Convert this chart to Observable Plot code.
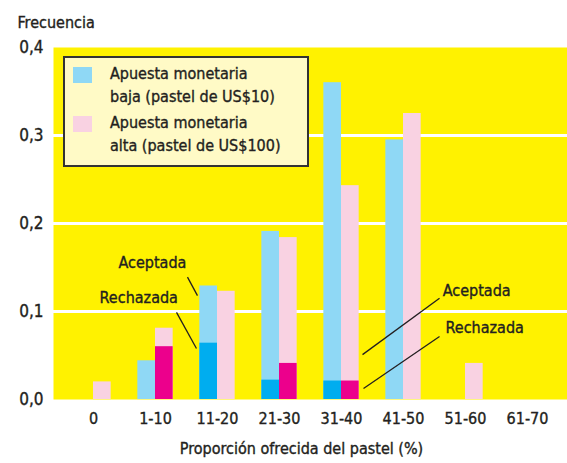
<!DOCTYPE html>
<html><head><meta charset="utf-8">
<script src="https://cdn.jsdelivr.net/npm/d3@7"></script>
<script src="https://cdn.jsdelivr.net/npm/@observablehq/plot@0.6"></script>
<style>
body{margin:0;background:#fff;}
#wrap{position:relative;width:567px;height:463px;font-family:"Liberation Sans Narrow","Arial Narrow","DejaVu Sans Condensed","Roboto Condensed",sans-serif;color:#231f20;}
#wrap svg text{stroke:#231f20;stroke-width:0.35px;}
#legend{position:absolute;left:63px;top:56px;width:242px;height:107px;background:#fffac6;border:2px solid #333;}
.sw{position:absolute;left:8px;width:19px;height:16px;}
.lt{position:absolute;left:45px;font-size:16px;line-height:23px;white-space:pre-line;-webkit-text-stroke:0.35px #231f20;}
</style></head>
<body><div id="wrap"></div>
<script>
const categories = ["0","1-10","11-20","21-30","31-40","41-50","51-60","61-70"];
const lowTotal     = [0, 0.044, 0.129, 0.191, 0.360, 0.295, 0, 0];
const lowRejected  = [0, 0, 0.064, 0.022, 0.021, 0, 0, 0];
const highTotal    = [0.020, 0.081, 0.123, 0.184, 0.243, 0.325, 0.041, 0];
const highRejected = [0, 0.060, 0, 0.041, 0.021, 0, 0, 0];
const yTicks = [0, 0.1, 0.2, 0.3, 0.4];
const gridTicks = [0.1, 0.2, 0.3];
const seriesLabels = ["Apuesta monetaria\nbaja (pastel de US$10)", "Apuesta monetaria\nalta (pastel de US$100)"];
const yLabel = "Frecuencia";
const xLabel = "Proporción ofrecida del pastel (%)";
const annotationText = [
  {text: "Aceptada", x: 0.95, y: 0.155},
  {text: "Rechazada", x: 0.73, y: 0.116},
  {text: "Aceptada", x: 6.18, y: 0.124},
  {text: "Rechazada", x: 6.31, y: 0.081}
];
const leaders = [
  {x1: 1.516, y1: 0.139, x2: 1.677, y2: 0.118},
  {x1: 1.339, y1: 0.099, x2: 1.661, y2: 0.058},
  {x1: 4.339, y1: 0.051, x2: 5.581, y2: 0.115},
  {x1: 4.355, y1: 0.0125, x2: 5.581, y2: 0.0716}
];

const colors = {low: "#8fd8f5", lowRej: "#00adef", high: "#f9d2e2", highRej: "#ec008c", bg: "#fff200"};
const half = 0.285;
const bars = [];
categories.forEach((c, i) => {
  bars.push({x1: i - half, x2: i, y: lowTotal[i], fill: colors.low});
  bars.push({x1: i, x2: i + half, y: highTotal[i], fill: colors.high});
  bars.push({x1: i - half, x2: i, y: lowRejected[i], fill: colors.lowRej});
  bars.push({x1: i, x2: i + half, y: highRejected[i], fill: colors.highRej});
});
const visibleBars = bars.filter(d => d.y > 0);

const font = '"Liberation Sans Narrow","Arial Narrow","DejaVu Sans Condensed","Roboto Condensed",sans-serif';

const chart = Plot.plot({
  width: 567,
  height: 463,
  marginLeft: 53,
  marginRight: 0,
  marginTop: 47,
  marginBottom: 64,
  style: {fontFamily: font, fontSize: "16px", color: "#231f20", background: "#fff"},
  x: {domain: [-0.645, 7.645]},
  y: {domain: [0, 0.4]},
  marks: [
    Plot.frame({fill: colors.bg, stroke: null}),
    Plot.ruleY(gridTicks, {stroke: "#fff", strokeWidth: 3}),
    Plot.rectY(visibleBars, {x1: "x1", x2: "x2", y1: 0, y2: "y", fill: d => d.fill}),
    Plot.axisY({ticks: yTicks, tickFormat: d => d.toFixed(1).replace(".", ","), tickSize: 0, tickPadding: 10, label: null, fontSize: 17}),
    Plot.axisX({ticks: d3.range(categories.length), tickFormat: i => categories[i], tickSize: 0, tickPadding: 13, label: null, fontSize: 16}),
    Plot.text([yLabel], {text: d => d, frameAnchor: "top-left", textAnchor: "start", dx: -36, dy: -31, fontSize: 16}),
    Plot.text([xLabel], {text: d => d, frameAnchor: "bottom", dx: -9, dy: 54, fontSize: 16}),
    Plot.link(leaders, {x1: "x1", y1: "y1", x2: "x2", y2: "y2", stroke: "#231f20", strokeWidth: 1.3}),
    Plot.text(annotationText, {x: "x", y: "y", text: "text", fontSize: 16, fill: "#231f20"})
  ]
});
chart.style.position = "absolute";
chart.style.left = "0";
chart.style.top = "0";
const wrap = document.getElementById("wrap");
wrap.appendChild(chart);

const legend = document.createElement("div");
legend.id = "legend";
const entries = [
  {fill: colors.low, swTop: 9, textTop: 4, label: seriesLabels[0]},
  {fill: colors.high, swTop: 58, textTop: 53, label: seriesLabels[1]}
];
entries.forEach(e => {
  const sw = document.createElement("div");
  sw.className = "sw";
  sw.style.top = e.swTop + "px";
  sw.style.background = e.fill;
  legend.appendChild(sw);
  const t = document.createElement("div");
  t.className = "lt";
  t.style.top = e.textTop + "px";
  t.textContent = e.label;
  legend.appendChild(t);
});
wrap.appendChild(legend);
</script>
</body></html>
